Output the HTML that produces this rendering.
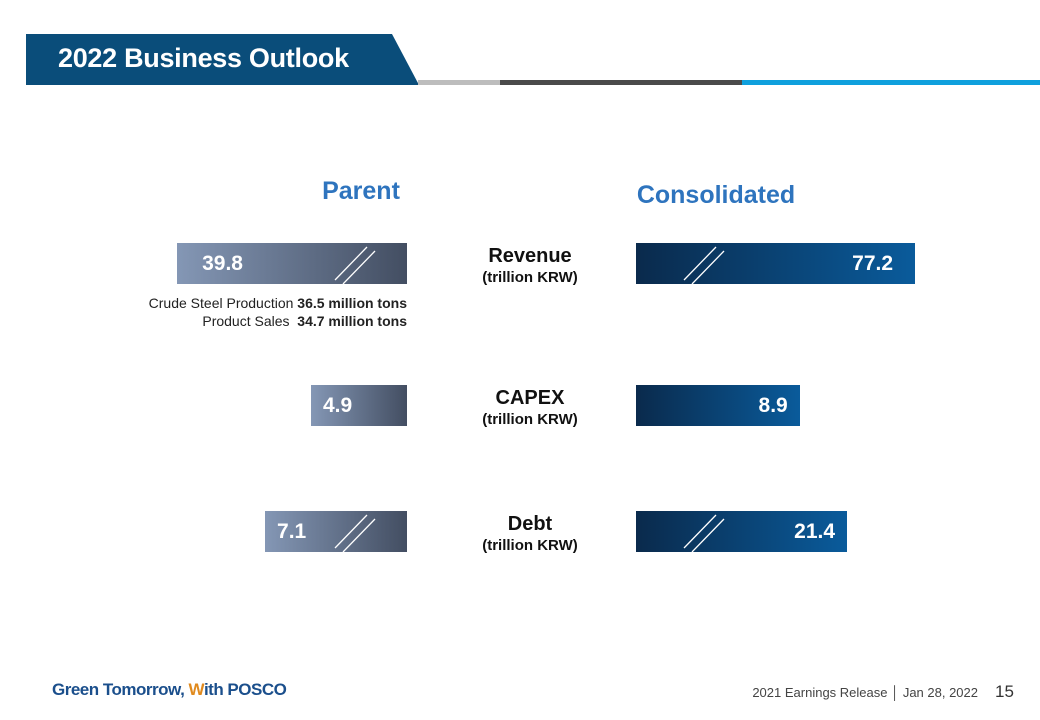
<!DOCTYPE html>
<html><head><meta charset="utf-8"><style>
body{margin:0;width:1040px;height:720px;position:relative;background:#fff;font-family:"Liberation Sans",sans-serif;overflow:hidden}
.abs{position:absolute}
.bar{position:absolute;height:41px;color:#fff;font-weight:bold;font-size:21px;line-height:41px}
.lbl{position:absolute;left:430px;width:200px;text-align:center;font-weight:bold;color:#111}
.lbl .a{font-size:20px;line-height:24px}
.lbl .b{font-size:15px;line-height:20px}
</style></head><body>
<div class="abs" style="left:0;top:0;width:1040px;height:90px">
<svg width="1040" height="90">
<polygon points="26,34 392,34 419,85 26,85" fill="#0a4d7a"/>
<rect x="418" y="80" width="82" height="5" fill="#bdbdbd"/>
<rect x="500" y="80" width="242" height="5" fill="#4a4a4a"/>
<rect x="742" y="80" width="298" height="5" fill="#0fa0dd"/>
</svg></div>
<div class="abs" style="left:58px;top:43px;color:#fff;font-weight:bold;font-size:27px;letter-spacing:-0.3px;white-space:nowrap">2022 Business Outlook</div>
<div class="abs" style="left:300px;top:177px;width:122px;text-align:center;color:#2e74be;font-weight:bold;font-size:25px">Parent</div>
<div class="abs" style="left:620px;top:181px;width:192px;text-align:center;color:#2e74be;font-weight:bold;font-size:25px">Consolidated</div>
<div class="abs" style="left:100px;top:294px;width:307px;text-align:right;font-size:14px;line-height:18px;color:#222;white-space:nowrap">
Crude Steel Production <b>36.5 million tons</b><br>Product Sales&nbsp; <b>34.7 million tons</b></div>
<div class="abs" style="left:52px;top:680px;font-weight:bold;font-size:17px;color:#1b4f8c;letter-spacing:-0.5px;white-space:nowrap">Green Tomorrow, <span style="color:#e08a1e">W</span>ith POSCO</div>
<div class="abs" style="left:700px;top:685px;width:278px;text-align:right;font-size:13px;color:#444;white-space:nowrap">2021 Earnings Release │ Jan 28, 2022</div>
<div class="abs" style="left:995px;top:682px;font-size:17px;color:#333">15</div>
<div id="chart"></div>
<script>
const metrics=["Revenue","CAPEX","Debt"];
const parentValues=[39.8,4.9,7.1];
const consolidatedValues=[77.2,8.9,21.4];
const brokenParent=[true,false,true];
const brokenConsolidated=[true,false,true];
const rowTop=[243,385,511];
// linear scale for unbroken bars, compressed (log) scale for broken bars
function parentW(v,broken){return broken?42+51*Math.log(v):v*19.6;}
function consW(v,broken){return broken?48.7+53*Math.log(v):v*18.4;}
const root=document.getElementById('chart');
function slash(bar,x){
  const s=document.createElementNS('http://www.w3.org/2000/svg','svg');
  s.setAttribute('width','50');s.setAttribute('height','41');
  s.style.position='absolute';s.style.left=x+'px';s.style.top='0';
  s.innerHTML='<line x1="4" y1="37" x2="36" y2="4" stroke="#fff" stroke-width="1.3"/><line x1="12" y1="41" x2="44" y2="8" stroke="#fff" stroke-width="1.3"/>';
  
  
  bar.appendChild(s);
}
metrics.forEach((m,i)=>{
  const y=rowTop[i];
  const pw=parentW(parentValues[i],brokenParent[i]);
  const p=document.createElement('div');
  p.className='bar';
  
  
  p.style.left=(407-pw)+'px';p.style.top=y+'px';p.style.width=pw+'px';
  p.style.background='linear-gradient(90deg,#8497b5,#434e62)';
  p.innerHTML='<span style="position:absolute;left:'+(pw>150?25:12)+'px">'+parentValues[i]+'</span>';
  if(brokenParent[i])slash(p,pw-76);
  root.appendChild(p);
  const cw=consW(consolidatedValues[i],brokenConsolidated[i]);
  const c=document.createElement('div');
  c.className='bar';
  
  
  c.style.left='636px';c.style.top=y+'px';c.style.width=cw+'px';
  c.style.background='linear-gradient(90deg,#0a2a4c,#0a5b9b)';
  c.innerHTML='<span style="position:absolute;right:'+(cw>250?22:12)+'px">'+consolidatedValues[i]+'</span>';
  if(brokenConsolidated[i])slash(c,44);
  root.appendChild(c);
  const l=document.createElement('div');
  l.className='lbl';
  
  
  l.style.top=(y+1)+'px';
  l.innerHTML='<div class="a">'+m+'</div><div class="b">(trillion KRW)</div>';
  root.appendChild(l);
});
</script>
</body></html>
